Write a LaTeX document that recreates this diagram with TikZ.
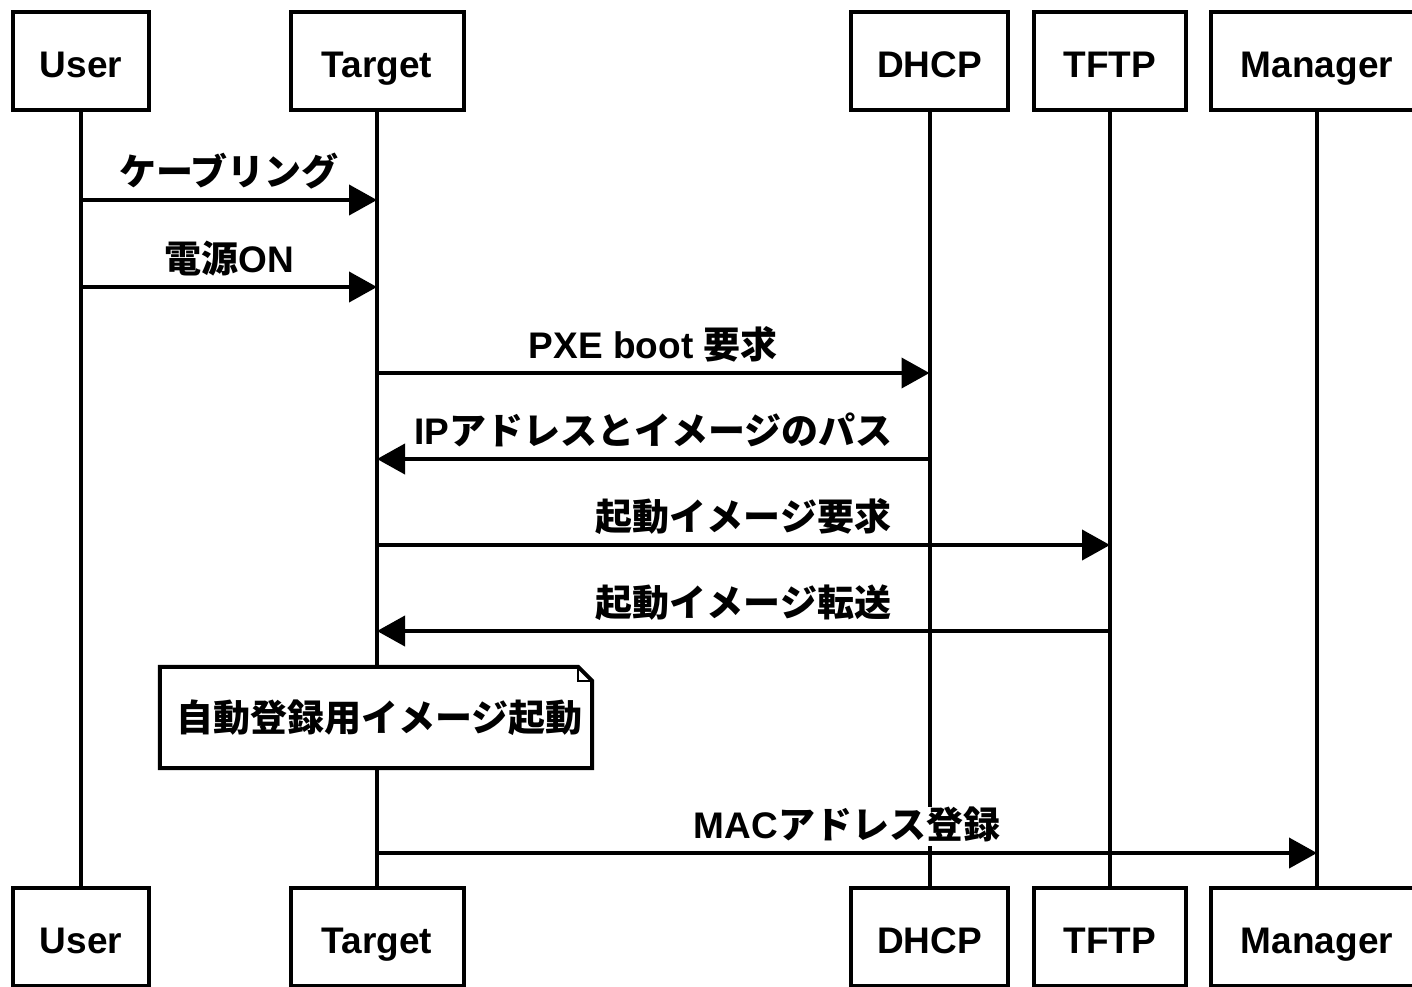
\documentclass[tikz,border=0pt]{standalone}
\usepackage{fontspec}
\setmainfont{Liberation Sans}
\newfontfamily\cjk{Noto Sans CJK JP}
\usetikzlibrary{arrows.meta}
\begin{document}
\begin{tikzpicture}[x=1pt,y=-1pt,
  every node/.style={font=\fontsize{37}{44}\selectfont\bfseries},
  actor/.style={draw, line width=4pt, fill=white, minimum height=98pt, inner sep=0pt, text height=32pt, text depth=0pt},
  life/.style={line width=4pt},
  msg/.style={line width=4pt, -{Triangle[length=28pt,width=30pt]}},
  lbl/.style={midway, yshift=27pt, fill=white, inner xsep=3pt, inner ysep=1pt, text height=31pt, text depth=6pt},
  notebox/.style={fill=white, minimum width=432pt, minimum height=101pt, text width=400pt, align=left, inner sep=0pt},
  noteline/.style={line width=4pt, line join=miter}
]
\useasboundingbox (0,0) rectangle (1412,986);
% top actors
\node[actor, minimum width=136pt] (uT) at (81,61) {User};
\node[actor, minimum width=173pt] (tT) at (377,61) {Target};
\node[actor, minimum width=157pt] (dT) at (929.5,61) {DHCP};
\node[actor, minimum width=152pt] (fT) at (1110,61) {TFTP};
\node[actor, minimum width=212pt] (mT) at (1317,61) {Manager};
% bottom actors
\node[actor, minimum width=136pt] (uB) at (81,937) {User};
\node[actor, minimum width=173pt] (tB) at (377,937) {Target};
\node[actor, minimum width=157pt] (dB) at (929.5,937) {DHCP};
\node[actor, minimum width=152pt] (fB) at (1110,937) {TFTP};
\node[actor, minimum width=212pt] (mB) at (1317,937) {Manager};
% lifelines
\draw[life] (uT.south) -- (uB.north);
\draw[life] (tT.south) -- (tB.north);
\draw[life] (dT.south) -- (dB.north);
\draw[life] (fT.south) -- (fB.north);
\draw[life] (mT.south) -- (mB.north);
% message rows
\coordinate (r1) at (0,200);
\coordinate (r2) at (0,287);
\coordinate (r3) at (0,373);
\coordinate (r4) at (0,459);
\coordinate (r5) at (0,545);
\coordinate (r6) at (0,631);
\coordinate (r7) at (0,853);
\draw[msg] (uT |- r1) -- node[lbl] {\cjk ケーブリング} (tT |- r1);
\draw[msg] (uT |- r2) -- node[lbl] {{\cjk 電源}ON} (tT |- r2);
\draw[msg] (tT |- r3) -- node[lbl] {PXE boot {\cjk 要求}} (dT |- r3);
\draw[msg] (dT |- r4) -- node[lbl] {IP{\cjk アドレスとイメージのパス}} (tT |- r4);
\draw[msg] (tT |- r5) -- node[lbl] {\cjk 起動イメージ要求} (fT |- r5);
\draw[msg] (fT |- r6) -- node[lbl] {\cjk 起動イメージ転送} (tT |- r6);
% note
\node[notebox] (note) at (376,717.5) {\fontsize{37}{44}\selectfont\cjk 自動登録用イメージ起動};
\draw[noteline] (note.north west) -- ([xshift=-14pt]note.north east) -- ([yshift=-14pt]note.north east) -- (note.south east) -- (note.south west) -- cycle;
\draw[line width=2pt] ([xshift=-14pt]note.north east) -- ([xshift=-14pt,yshift=-14pt]note.north east) -- ([yshift=-14pt]note.north east);
\draw[msg] (tT |- r7) -- node[lbl] {MAC{\cjk アドレス登録}} (mT |- r7);
\end{tikzpicture}
\end{document}
